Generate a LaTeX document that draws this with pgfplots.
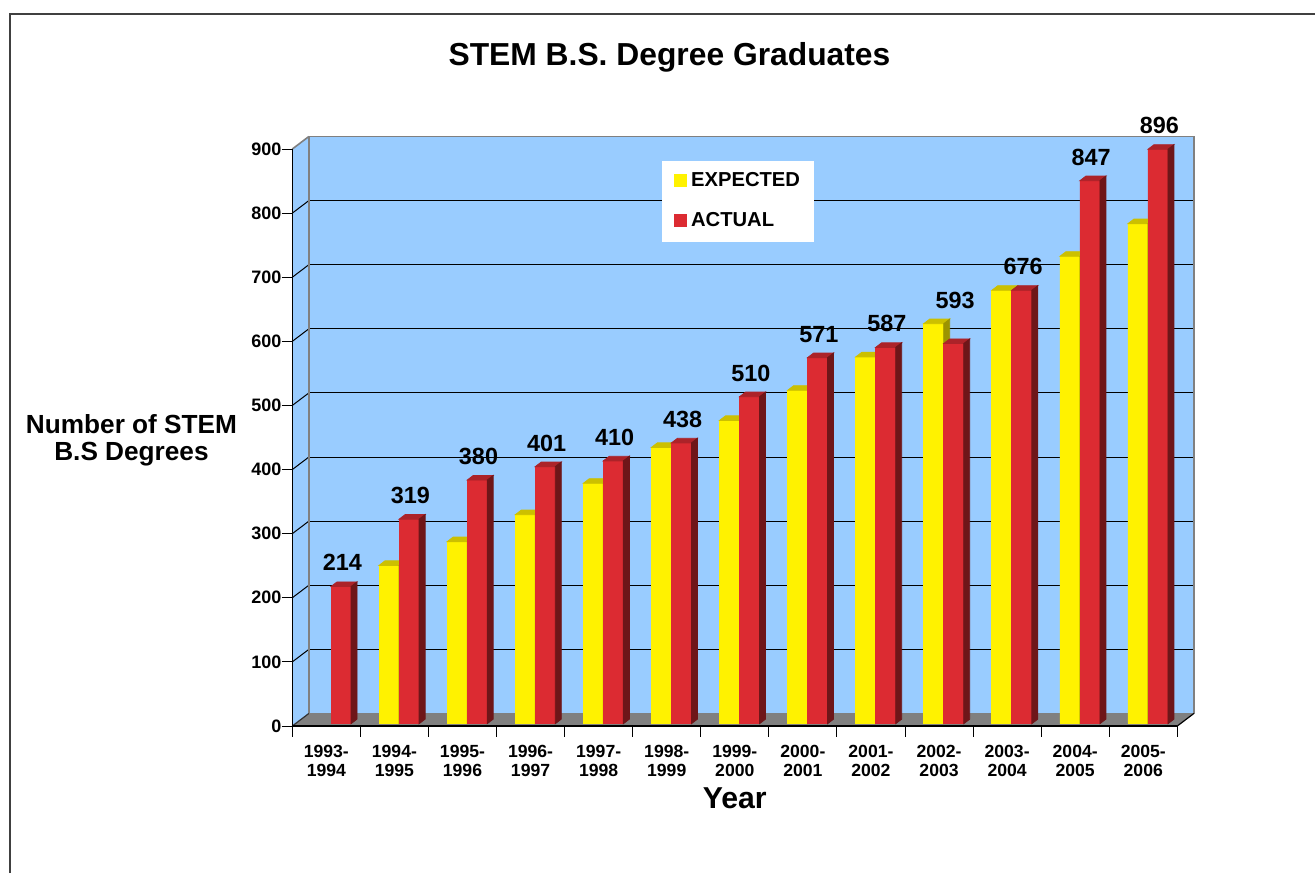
\documentclass[border=0pt]{standalone}
\usepackage{pgfplots}
\pgfplotsset{compat=1.18}
\usepackage{pgfplotstable}
\usepackage{fontspec}
\setmainfont{Liberation Sans}

\definecolor{wall}{HTML}{99CCFF}
\definecolor{floorc}{HTML}{808080}
\definecolor{edgec}{HTML}{808080}
\definecolor{yel}{HTML}{FFF200}
\definecolor{yeltop}{HTML}{CCC000}
\definecolor{yelside}{HTML}{9C9400}
\definecolor{redf}{HTML}{DC2B32}
\definecolor{redtop}{HTML}{AC2329}
\definecolor{redside}{HTML}{6E1619}

% x = category index, exp = EXPECTED, act = ACTUAL, ly = height the label sits on
\pgfplotstableread{
x exp act ly
0 nan 214 214
1 247 319 319
2 284 380 380
3 326 401 401
4 375 410 410
5 431 438 438
6 473 510 510
7 520 571 571
8 572 587 587
9 624 593 624
10 676 676 676
11 729 847 847
12 780 896 896
}\datatable

\pgfplotsset{
  /pgf/number format/assume math mode=true,
  base/.style={scale only axis, width=442.5pt, height=288.5pt,
    xmin=-0.5, xmax=12.5, ymin=0, ymax=900, anchor=south west},
  % 3-D faces of a bar: shift, column, front, top, side colour
  faces/.style n args={5}{%
    scatter, only marks, mark=text, text mark={}, forget plot,
    visualization depends on={\thisrow{#2} \as \rawy},
    scatter/@pre marker code/.code={%
      \pgfmathsetlengthmacro\barH{\rawy*0.320556}%
      \fill[#3] (#1-5pt,0pt) rectangle (#1+5pt,-\barH);
      \fill[#4] (#1-5pt,0pt) -- (#1+5pt,0pt) -- (#1+8pt,2.3pt) -- (#1-2pt,2.3pt) -- cycle;
      \fill[#5] (#1+5pt,0pt) -- (#1+8pt,2.3pt) -- (#1+8pt,2.3pt-\barH) -- (#1+5pt,-\barH) -- cycle;
    },
    scatter/@post marker code/.code={},
  },
}

\begin{document}
\begin{tikzpicture}
\useasboundingbox (0,0) rectangle (657.5pt,436.5pt);
% outer frame
\draw[line width=0.9pt, black!75] (4.9pt,0pt) -- (4.9pt,429.5pt) -- (657.5pt,429.5pt);

% back wall
\begin{axis}[base, at={(154.4pt,79.75pt)},
  axis background/.style={fill=wall},
  xtick=\empty, ytick={0,100,...,900}, yticklabels={},
  major tick length=0pt,
  ymajorgrids, major grid style={black, line width=0.5pt},
  axis line style={edgec, line width=0.8pt}]
\end{axis}

% front frame: side wall, floor, ticks and labels
\begin{axis}[base, at={(146.15pt,73.5pt)}, clip=false, axis on top,
  axis x line*=bottom, axis y line*=left,
  axis line style={-, black, line width=0.7pt},
  tick align=outside, major tick length=5.3pt,
  tick style={black, line width=0.5pt},
  ytick={0,100,...,900},
  yticklabel style={anchor=east, inner sep=0pt, font=\bfseries\fontsize{9}{9}\selectfont},
  xtick={-0.5,0.5,...,12.5},
  x tick label as interval,
  xticklabels={1993-\\1994,1994-\\1995,1995-\\1996,1996-\\1997,1997-\\1998,1998-\\1999,1999-\\2000,2000-\\2001,2001-\\2002,2002-\\2003,2003-\\2004,2004-\\2005,2005-\\2006},
  xticklabel style={align=center, anchor=north, inner sep=0pt, yshift=-4pt, font=\bfseries\fontsize{8.8}{9.7}\selectfont},
  xlabel={Year},
  xlabel style={at={(rel axis cs:0.5,-0.1426)}, anchor=base, inner sep=0pt, font=\bfseries\fontsize{15.1}{16}\selectfont},
  ylabel={Number of STEM\\B.S Degrees},
  ylabel style={rotate=-90, at={(rel axis cs:-0.1817,0.4953)}, anchor=center, align=center, inner sep=0pt, font=\bfseries\fontsize{13.1}{13.9}\selectfont},
  title={STEM B.S. Degree Graduates},
  title style={at={(rel axis cs:0.4262,1.1231)}, anchor=base, inner sep=0pt, font=\bfseries\fontsize{15.9}{17}\selectfont},
]
\fill[wall] (rel axis cs:0,0) -- (rel axis cs:0,1) -- ++(8.25pt,6.25pt) -- ([shift={(8.25pt,6.25pt)}]rel axis cs:0,0) -- cycle;
\fill[floorc] (rel axis cs:0,0) -- (rel axis cs:1,0) -- ++(8.25pt,6.25pt) -- ([shift={(8.25pt,6.25pt)}]rel axis cs:0,0) -- cycle;
\pgfplotsinvokeforeach{100,200,...,800}{\draw[black, line width=0.5pt] (axis cs:-0.5,#1) -- ++(8.25pt,6.25pt);}
\draw[edgec, line width=0.8pt] (rel axis cs:0,1) -- ++(8.25pt,6.25pt);
\draw[edgec, line width=0.8pt] ([shift={(8.25pt,6.25pt)}]rel axis cs:0,0) -- ([shift={(8.25pt,6.25pt)}]rel axis cs:0,1);
\draw[black!80, line width=0.6pt] (rel axis cs:0,0) -- ++(8.25pt,6.25pt);
\draw[black, line width=0.6pt] (rel axis cs:1,0) -- ++(8.25pt,6.25pt);
\end{axis}

% bars
\begin{axis}[base, at={(148.5pt,74.65pt)}, hide axis, clip=false, bar width=10pt]
\addplot[ybar, bar shift=-5pt, fill=yel, draw=none] table[x=x, y=exp]{\datatable};
\addplot[ybar, bar shift=5pt, fill=redf, draw=none] table[x=x, y=act]{\datatable};
\addplot[faces={-5pt}{exp}{yel}{yeltop}{yelside}] table[x=x, y=exp]{\datatable};
\addplot[faces={5pt}{act}{redf}{redtop}{redside}] table[x=x, y=act]{\datatable};
\addplot[draw=none, mark=none, forget plot, nodes near coords, point meta=explicit,
  every node near coord/.style={anchor=base, xshift=5.65pt, yshift=7.8pt, inner sep=0pt, text=black, font=\bfseries\fontsize{11.7}{12}\selectfont}]
  table[x=x, y=ly, meta=act]{\datatable};
\end{axis}

% legend
\fill[white] (331.15pt,315.6pt) rectangle (407pt,356pt);
\fill[yel] (337pt,343.15pt) rectangle (343.35pt,349.5pt);
\node[anchor=base west, inner sep=0pt, font=\bfseries\fontsize{10.1}{11}\selectfont] at (345.35pt,343.1pt) {EXPECTED};
\fill[redf] (337pt,323.15pt) rectangle (343.35pt,329.5pt);
\node[anchor=base west, inner sep=0pt, font=\bfseries\fontsize{10.1}{11}\selectfont] at (345.35pt,323.1pt) {ACTUAL};
\end{tikzpicture}
\end{document}
